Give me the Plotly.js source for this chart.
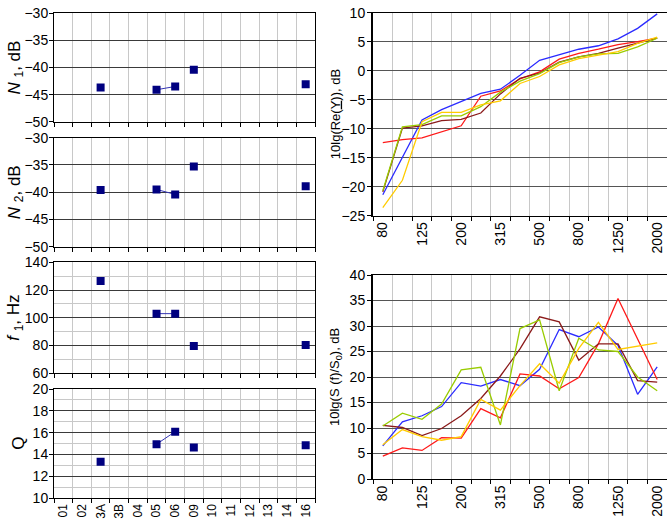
<!DOCTYPE html>
<html><head><meta charset="utf-8">
<script src="https://cdn.plot.ly/plotly-3.0.1.min.js"></script>
<style>html,body{margin:0;padding:0;background:#fff}#chart{width:667px;height:519px}</style>
</head><body><div id="chart"></div>
<script>
// ---- Left panels: specimens ----
const specimens = ['01','02','3A','3B','04','05','06','09','10','11','12','13','14','16'];
const n1Values = [null,null,-43.7,null,null,-44.1,-43.5,-40.4,null,null,null,null,null,-43.1];
const n2Values = [null,null,-39.6,null,null,-39.5,-40.4,-35.3,null,null,null,null,null,-38.9];
const f1Values = [null,null,126.5,null,null,103.0,103.0,79.7,null,null,null,null,null,80.4];
const qValues  = [null,null,13.35,null,null,14.95,16.1,14.65,null,null,null,null,null,14.85];
// specimens joined by a line in the reference
const linkedSpecimens = ['05','06'];
const leftTitles = ['<i>N</i> <sub>1</sub>, dB', '<i>N</i> <sub>2</sub>, dB', '<i>f</i> <sub>1</sub>, Hz', 'Q'];

// ---- Right panels: 1/3-octave bands, Hz ----
const bands = ['80','100','125','160','200','250','315','400','500','630','800','1000','1250','1600','2000'];
const seriesColors = ['#2b2bff','#ff1a1a','#8b1a1a','#99cc00','#ffcc00'];
// 10lg(Re(Y)), dB
const reBlue   = [-21.4,-15.0,-8.5,-6.7,-5.3,-3.9,-3.2,-0.8,1.8,2.8,3.7,4.3,5.5,7.3,9.8];
const reRed    = [-12.4,-11.9,-11.6,-10.6,-9.5,-4.4,-3.5,-1.4,-0.2,2.0,3.0,3.7,4.5,5.0,5.6];
const reMaroon = [-20.9,-9.9,-9.5,-8.6,-8.4,-7.3,-4.0,-1.3,-0.4,1.5,2.4,3.0,3.9,4.7,5.6];
const reGreen  = [-20.7,-9.7,-9.3,-7.8,-7.8,-6.2,-3.7,-1.8,-0.5,1.4,2.4,2.9,3.0,4.1,5.6];
const reYellow = [-23.6,-18.9,-8.8,-7.2,-7.2,-5.9,-5.2,-2.2,-1.0,1.0,2.1,2.7,3.3,4.7,5.8];
// 10lg(S(f)/S0), dB
const sBlue   = [6.5,11.2,12.4,14.2,18.9,18.2,19.5,18.3,21.5,29.3,27.9,29.8,26.2,16.6,22.0];
const sRed    = [4.5,6.1,5.6,8.1,8.0,13.8,12.0,20.6,20.2,17.7,19.9,26.5,35.4,27.5,19.5];
const sMaroon = [10.5,10.1,8.5,9.9,12.4,15.8,20.2,25.5,31.8,30.8,23.3,26.5,26.5,19.3,19.0];
const sGreen  = [10.4,12.9,11.7,14.7,21.4,21.9,10.6,29.5,31.2,17.3,27.6,25.3,25.0,20.0,17.3];
const sYellow = [6.7,9.7,8.3,7.6,8.3,15.6,13.5,18.3,22.6,18.8,25.6,30.7,25.4,26.0,26.7];
const rightTitles = ['10lg(Re(<u>Y</u>)), dB', '10lg(S (f)/S<sub>0</sub>), dB'];

const FONT = 'Liberation Sans, Arial, sans-serif';
const specIdx = specimens.map((_, i) => i);
const linkedIdx = specIdx.filter(i => linkedSpecimens.includes(specimens[i]));
const bandIdx = bands.map((_, i) => i);
const bandTickIdx = bandIdx.filter(i => i % 2 === 0);
const bandTickText = bandTickIdx.map(i => bands[i]);

const traces = [];
const leftSets = [n1Values, n2Values, f1Values, qValues];
leftSets.forEach((vals, k) => {
  const ax = k === 0 ? '' : String(k + 1);
  traces.push({
    x: linkedIdx, y: linkedIdx.map(i => vals[i]), type: 'scatter', mode: 'lines',
    xaxis: 'x' + ax, yaxis: 'y' + ax,
    line: {color: '#3535b5', width: 1}, hoverinfo: 'skip', showlegend: false
  });
  traces.push({
    x: specIdx, y: vals, type: 'scatter', mode: 'markers',
    xaxis: 'x' + ax, yaxis: 'y' + ax,
    marker: {symbol: 'square', size: 8, color: '#000080'},
    hoverinfo: 'skip', showlegend: false
  });
});
[reBlue, reRed, reMaroon, reGreen, reYellow].forEach((vals, k) => {
  traces.push({x: bandIdx, y: vals, type: 'scatter', mode: 'lines', xaxis: 'x5', yaxis: 'y5',
    line: {color: seriesColors[k], width: 1.3}, showlegend: false, hoverinfo: 'skip'});
});
[sBlue, sRed, sMaroon, sGreen, sYellow].forEach((vals, k) => {
  traces.push({x: bandIdx, y: vals, type: 'scatter', mode: 'lines', xaxis: 'x6', yaxis: 'y6',
    line: {color: seriesColors[k], width: 1.3}, showlegend: false, hoverinfo: 'skip'});
});

const W = 667, H = 519;
const dx = (a, b) => [a / W, b / W];
const dy = (top, bottom) => [1 - bottom / H, 1 - top / H];
const leftDomains = [dy(13.3, 121.7), dy(137.7, 246.7), dy(262.3, 373.3), dy(389, 498.3)];
const rightDomains = [dy(12.7, 215.7), dy(275, 479)];

function leftX(anchor, labels) {
  return {
    domain: dx(54, 315), anchor: anchor, range: [-0.5, specimens.length - 0.5],
    tickmode: 'array', tickvals: specIdx, ticktext: specimens,
    showticklabels: labels, tickangle: -90, ticks: '', showgrid: false, zeroline: false,
    tickfont: {family: FONT, size: 12, color: '#000'},
    showline: true, linecolor: '#000', linewidth: 1, mirror: true,
    minor: {tick0: 0.5, dtick: 1, ticks: 'outside', ticklen: 4, tickcolor: '#000',
            showgrid: true, gridcolor: '#c8c8c8', gridwidth: 1}
  };
}
function leftY(anchor, domain, range, dtick, minorDtick) {
  const a = {
    domain: domain, anchor: anchor, range: range, dtick: dtick, tick0: range[0],
    ticks: 'outside', ticklen: 4, tickcolor: '#000', ticklabelstandoff: -2,
    showgrid: true, gridcolor: '#3a3a3a', gridwidth: 1, zeroline: false,
    showline: true, linecolor: '#000', linewidth: 1, mirror: true,
    tickfont: {family: FONT, size: 14, color: '#000'}
  };
  if (minorDtick) a.minor = {dtick: minorDtick, showgrid: true, gridcolor: '#c8c8c8', ticks: ''};
  return a;
}
function rightX(anchor) {
  return {
    domain: dx(373, 668), anchor: anchor, range: [-0.5, bands.length - 0.5],
    tickmode: 'array', tickvals: bandTickIdx, ticktext: bandTickText,
    tickangle: -90, ticks: '', showgrid: false, zeroline: false,
    tickfont: {family: FONT, size: 14, color: '#000'},
    showline: true, linecolor: '#000', linewidth: 1, mirror: true,
    minor: {tick0: 0.5, dtick: 1, ticks: 'outside', ticklen: 4, tickcolor: '#000',
            showgrid: true, gridcolor: '#c8c8c8', gridwidth: 1}
  };
}
function rightY(anchor, domain, range, dtick) {
  return {
    domain: domain, anchor: anchor, range: range, dtick: dtick, tick0: range[0],
    ticks: 'outside', ticklen: 4, tickcolor: '#000', ticklabelstandoff: -1,
    showgrid: true, gridcolor: '#555', gridwidth: 1, zeroline: false,
    showline: true, linecolor: '#000', linewidth: 2,
    tickfont: {family: FONT, size: 14, color: '#000'}
  };
}

// axis titles as rotated text next to each panel
const leftTitleX = [16, 16, 15, 19];
const annotations = [];
leftTitles.forEach((t, k) => {
  const d = leftDomains[k];
  annotations.push({text: t, xref: 'paper', yref: 'paper', x: leftTitleX[k] / W, y: (d[0] + d[1]) / 2,
    xanchor: 'center', yanchor: 'middle', textangle: -90, showarrow: false,
    font: {family: FONT, size: 17, color: '#000'}});
});
rightTitles.forEach((t, k) => {
  const d = rightDomains[k];
  annotations.push({text: t, xref: 'paper', yref: 'paper', x: 335 / W, y: (d[0] + d[1]) / 2,
    xanchor: 'center', yanchor: 'middle', textangle: -90, showarrow: false,
    font: {family: FONT, size: 13, color: '#000'}});
});

const layout = {
  width: W, height: H, margin: {l: 0, r: 0, t: 0, b: 0},
  paper_bgcolor: '#fff', plot_bgcolor: '#fff', showlegend: false,
  font: {family: FONT, color: '#000'},
  xaxis:  leftX('y', false),
  yaxis:  leftY('x', leftDomains[0], [-50, -30], 5),
  xaxis2: leftX('y2', false),
  yaxis2: leftY('x2', leftDomains[1], [-50, -30], 5),
  xaxis3: leftX('y3', false),
  yaxis3: leftY('x3', leftDomains[2], [60, 140], 20, 10),
  xaxis4: leftX('y4', true),
  yaxis4: leftY('x4', leftDomains[3], [10, 20], 2, 1),
  xaxis5: rightX('y5'),
  yaxis5: rightY('x5', rightDomains[0], [-25, 10], 5),
  xaxis6: rightX('y6'),
  yaxis6: rightY('x6', rightDomains[1], [0, 40], 5),
  annotations: annotations
};

Plotly.newPlot('chart', traces, layout, {staticPlot: true, displayModeBar: false});
</script></body></html>
